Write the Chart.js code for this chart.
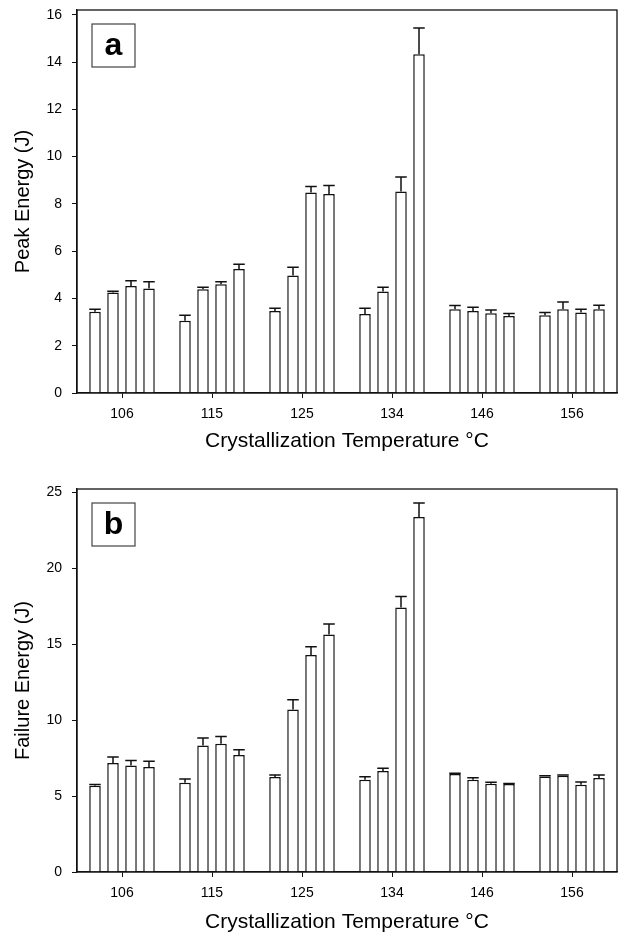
<!DOCTYPE html>
<html>
<head>
<meta charset="utf-8">
<script src="https://cdn.jsdelivr.net/npm/chart.js@4.4.1/dist/chart.umd.min.js"></script>
<style>
  html, body { margin: 0; padding: 0; background: #fff; }
  #wrap { position: relative; width: 621px; height: 938px; }
  .panel { position: absolute; left: 0; width: 621px; }
</style>
</head>
<body>
<div id="wrap">
  <div class="panel" style="top:0;height:470px"><canvas id="peakChart" width="621" height="470"></canvas></div>
  <div class="panel" style="top:470px;height:468px"><canvas id="failureChart" width="621" height="468"></canvas></div>
</div>
<script>
// categories (crystallization temperature, deg C)
var temps = ['106', '115', '125', '134', '146', '156'];

// panel a - peak energy (J), four specimens per temperature
var peak1 = [3.44, 3.06, 3.47, 3.34, 3.54, 3.29];
var peak2 = [4.25, 4.39, 4.97, 4.29, 3.47, 3.54];
var peak3 = [4.53, 4.60, 8.48, 8.52, 3.37, 3.40];
var peak4 = [4.42, 5.24, 8.42, 14.33, 3.26, 3.54];
var peakErr1 = [0.10, 0.23, 0.11, 0.24, 0.16, 0.11];
var peakErr2 = [0.05, 0.08, 0.35, 0.18, 0.16, 0.31];
var peakErr3 = [0.22, 0.11, 0.25, 0.62, 0.14, 0.14];
var peakErr4 = [0.29, 0.21, 0.36, 1.11, 0.10, 0.17];
var peakTicks = [0, 2, 4, 6, 8, 10, 12, 14, 16];

// panel b - failure energy (J)
var fail1 = [5.68, 5.88, 6.25, 6.07, 6.45, 6.29];
var fail2 = [7.17, 8.33, 10.70, 6.64, 6.07, 6.34];
var fail3 = [7.01, 8.44, 14.28, 17.41, 5.81, 5.74];
var fail4 = [6.91, 7.70, 15.63, 23.36, 5.79, 6.18];
var failErr1 = [0.08, 0.24, 0.13, 0.20, 0.05, 0.04];
var failErr2 = [0.40, 0.49, 0.64, 0.18, 0.13, 0.04];
var failErr3 = [0.33, 0.48, 0.54, 0.72, 0.09, 0.18];
var failErr4 = [0.37, 0.35, 0.69, 0.92, 0.03, 0.20];
var failTicks = [0, 5, 10, 15, 20, 25];

var FONT = "'Liberation Sans', Arial, Helvetica, sans-serif";
var INK = '#111';

// upward error bars, drawn from the bar top through the y scale
var errorBarPlugin = {
  id: 'errorBars',
  afterDatasetsDraw: function (chart) {
    var ctx = chart.ctx;
    var yScale = chart.scales.y;
    chart.data.datasets.forEach(function (ds, i) {
      var meta = chart.getDatasetMeta(i);
      meta.data.forEach(function (bar, j) {
        var yTop = yScale.getPixelForValue(ds.data[j] + ds.errors[j]);
        var half = bar.width / 2;
        ctx.save();
        ctx.strokeStyle = INK;
        ctx.lineWidth = 1.5;
        ctx.beginPath();
        ctx.moveTo(bar.x, bar.y);
        ctx.lineTo(bar.x, yTop);
        ctx.moveTo(bar.x - half, yTop);
        ctx.lineTo(bar.x + half, yTop);
        ctx.stroke();
        ctx.restore();
      });
    });
  }
};

// frame round the plot area and the panel letter box
var framePlugin = {
  id: 'frame',
  afterDraw: function (chart, args, opts) {
    var ctx = chart.ctx;
    var a = chart.chartArea;
    ctx.save();
    ctx.strokeStyle = INK;
    ctx.lineWidth = 1.3;
    ctx.strokeRect(a.left, a.top, a.right - a.left, a.bottom - a.top);
    // letter box
    ctx.lineWidth = 1.2;
    ctx.strokeStyle = '#444';
    ctx.strokeRect(a.left + 15, a.top + 14, 43, 43);
    ctx.fillStyle = '#000';
    ctx.font = 'bold 32px ' + FONT;
    ctx.textAlign = 'center';
    ctx.textBaseline = 'middle';
    ctx.fillText(opts.letter, a.left + 36.5, a.top + 36);
    ctx.restore();
  }
};

function makeDatasets(series, errors) {
  return series.map(function (values, i) {
    return {
      data: values,
      errors: errors[i],
      backgroundColor: '#fff',
      borderColor: INK,
      borderWidth: 1.5,
      barPercentage: 0.64,
      categoryPercentage: 0.8
    };
  });
}

function makeOptions(cfg) {
  return {
    responsive: false,
    animation: false,
    layout: { padding: { top: cfg.top, right: 4, left: 0, bottom: 0 } },
    plugins: {
      legend: { display: false },
      tooltip: { enabled: false },
      frame: { letter: cfg.letter }
    },
    scales: {
      x: {
        afterFit: function (scale) { scale.height = cfg.xHeight; },
        grid: { offset: false, drawOnChartArea: false, drawTicks: true, tickLength: 5, color: INK },
        border: { display: true, color: INK, width: 1.3 },
        ticks: { color: '#000', font: { family: FONT, size: 14 }, padding: 8 },
        title: { display: true, text: 'Crystallization Temperature °C', color: '#000',
                 font: { family: FONT, size: 21 }, padding: { top: 0, bottom: cfg.titlePad } }
      },
      y: {
        min: 0,
        max: cfg.max,
        afterFit: function (scale) {
          scale.width = 77;
          // the top and bottom labels may hang over; layout padding decides the plot box
          scale.paddingTop = 0;
          scale.paddingBottom = 0;
        },
        afterBuildTicks: function (scale) {
          scale.ticks = cfg.ticks.map(function (v) { return { value: v }; });
        },
        grid: { drawOnChartArea: false, drawTicks: true, tickLength: 5, color: INK },
        border: { display: true, color: INK, width: 1.3 },
        ticks: { color: '#000', font: { family: FONT, size: 14 }, padding: 10 },
        title: { display: true, text: cfg.yTitle, color: '#000',
                 font: { family: FONT, size: 20 }, padding: { top: 11, bottom: 0 } }
      }
    }
  };
}

new Chart(document.getElementById('peakChart').getContext('2d'), {
  type: 'bar',
  data: {
    labels: temps,
    datasets: makeDatasets([peak1, peak2, peak3, peak4], [peakErr1, peakErr2, peakErr3, peakErr4])
  },
  options: makeOptions({ letter: 'a', top: 10, max: 16.2, ticks: peakTicks, xHeight: 77, titlePad: 16,
                         yTitle: 'Peak Energy (J)' }),
  plugins: [errorBarPlugin, framePlugin]
});

new Chart(document.getElementById('failureChart').getContext('2d'), {
  type: 'bar',
  data: {
    labels: temps,
    datasets: makeDatasets([fail1, fail2, fail3, fail4], [failErr1, failErr2, failErr3, failErr4])
  },
  options: makeOptions({ letter: 'b', top: 19, max: 25.2, ticks: failTicks, xHeight: 66, titlePad: 3,
                         yTitle: 'Failure Energy (J)' }),
  plugins: [errorBarPlugin, framePlugin]
});
</script>
</body>
</html>
